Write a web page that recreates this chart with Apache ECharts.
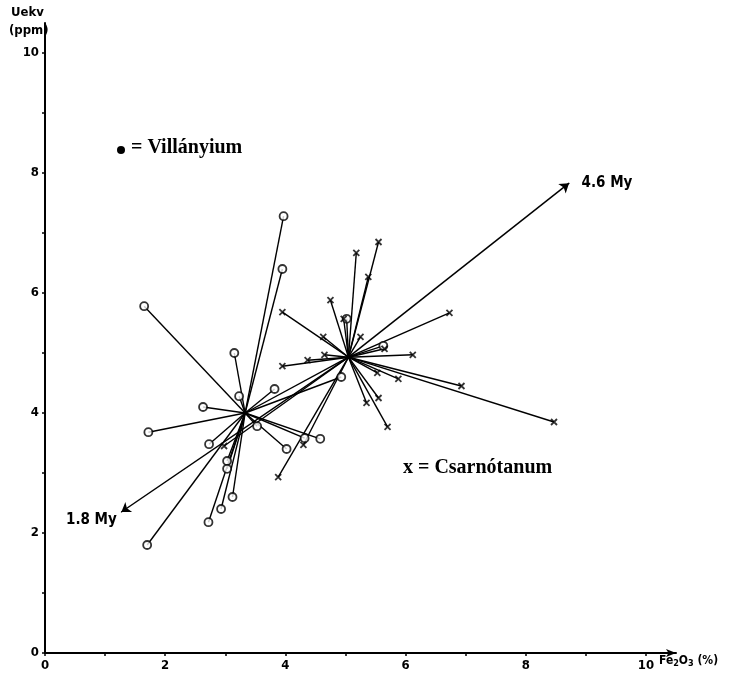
<!DOCTYPE html>
<html>
<head>
<meta charset="utf-8">
<script src="https://cdn.jsdelivr.net/npm/echarts@6/dist/echarts.min.js"></script>
<style>html,body{margin:0;padding:0;background:#fff;}#c{width:740px;height:677px;}</style>
</head>
<body>
<div id="c"></div>
<script>
// ---- data ----
var tickValues = [0,1,2,3,4,5,6,7,8,9,10];
var labelValues = [0,2,4,6,8,10];
var villanyiumCenter = [3.33, 4.0];
var csarnotanumCenter = [5.05, 4.93];
var villanyiumPoints = [
  [1.65,5.78],[3.97,7.28],[3.95,6.40],[3.15,5.0],[3.23,4.28],[3.82,4.4],
  [2.63,4.1],[1.72,3.68],[2.73,3.48],[3.53,3.78],[4.02,3.40],[4.58,3.57],
  [4.32,3.58],[4.93,4.6],[3.03,3.2],[3.03,3.07],[3.12,2.6],[2.93,2.4],
  [2.72,2.18],[1.7,1.8]
];
var villanyiumNearC = [[5.02,5.57],[5.63,5.12]];
var csarnotanumPoints = [
  [5.55,6.85],[5.18,6.67],[5.38,6.27],[4.75,5.88],[3.95,5.68],[4.97,5.57],
  [4.63,5.27],[5.25,5.27],[6.73,5.67],[5.65,5.07],[6.12,4.97],[4.65,4.97],
  [4.37,4.88],[3.95,4.78],[5.53,4.67],[5.88,4.57],[6.93,4.45],[8.47,3.85],
  [5.55,4.25],[5.35,4.17],[5.7,3.77],[4.3,3.47],[3.88,2.93],[2.98,3.45]
];
var ageStart = [1.27, 2.35];   // 1.8 My
var ageEnd = [8.72, 7.83];     // 4.6 My
var ageLabels = ['1.8 My', '4.6 My'];

// ---- build ----
var spokes = [];
villanyiumPoints.forEach(function(p){ spokes.push({coords:[villanyiumCenter, p]}); });
villanyiumNearC.forEach(function(p){ spokes.push({coords:[csarnotanumCenter, p]}); });
csarnotanumPoints.forEach(function(p){ spokes.push({coords:[csarnotanumCenter, p]}); });
spokes.push({coords:[villanyiumCenter, csarnotanumCenter]});

var techFont = "'DejaVu Sans Condensed','Liberation Sans Narrow',sans-serif";
var serifFont = "'Liberation Serif','DejaVu Serif',serif";
var ageLabelStyle = {show:true, color:'#000', fontFamily:techFont, fontWeight:'bold', fontSize:15,
  textBorderWidth:0, textBorderColor:'transparent', textShadowBlur:0, opacity:1};

var chart = echarts.init(document.getElementById('c'), null, {renderer:'canvas'});
chart.setOption({
  animation:false,
  backgroundColor:'#fff',
  grid:{left:45, right:64, top:23, bottom:24, containLabel:false},
  xAxis:{
    type:'value', min:0, max:10.5, interval:1,
    splitLine:{show:false},
    axisLine:{show:true, onZero:false, lineStyle:{color:'#000', width:2}, symbol:['none','arrow'], symbolSize:[6,10]},
    axisTick:{show:true, length:3, lineStyle:{color:'#000', width:1.5}, customValues:tickValues},
    axisLabel:{show:true, color:'#000', fontFamily:techFont, fontWeight:'bold', fontSize:13, margin:6, customValues:labelValues}
  },
  yAxis:{
    type:'value', min:0, max:10.5, interval:1,
    splitLine:{show:false},
    axisLine:{show:true, onZero:false, lineStyle:{color:'#000', width:2}},
    axisTick:{show:true, length:3, lineStyle:{color:'#000', width:1.5}, customValues:tickValues},
    axisLabel:{show:true, color:'#000', fontFamily:techFont, fontWeight:'bold', fontSize:13, margin:6, customValues:labelValues}
  },
  graphic:[
    {type:'text', left:11, top:6, style:{text:'Uekv', font:"bold 13px "+techFont, fill:'#000'}},
    {type:'text', left:9, top:24, style:{text:'(ppm)', font:"bold 13px "+techFont, fill:'#000'}},
    {type:'text', left:659, top:655, style:{
      text:'Fe{s|2}O{s|3} (%)', font:"bold 12px "+techFont, fill:'#000',
      rich:{s:{fontSize:9, fontWeight:'bold', fontFamily:techFont, verticalAlign:'bottom', padding:[6,0,0,0]}}
    }},
    {type:'circle', shape:{cx:121, cy:150, r:4}, style:{fill:'#000'}},
    {type:'text', left:131, top:138, style:{text:'= Villányium', font:"bold 20px "+serifFont, fill:'#000'}},
    {type:'text', left:403, top:458, style:{text:'x = Csarnótanum', font:"bold 20px "+serifFont, fill:'#000'}}
  ],
  series:[
    {
      type:'lines', coordinateSystem:'cartesian2d', silent:true, z:2,
      lineStyle:{color:'#000', width:1.4, opacity:1},
      data:spokes
    },
    {
      type:'lines', coordinateSystem:'cartesian2d', silent:true, z:2,
      symbol:['none','arrow'], symbolSize:9,
      lineStyle:{color:'#000', width:1.5, opacity:1},
      data:[{coords:[csarnotanumCenter, ageStart]},{coords:[csarnotanumCenter, ageEnd]}]
    },
    {
      type:'scatter', z:4, symbol:'circle', symbolSize:8,
      itemStyle:{color:'#fff', borderColor:'#000', borderWidth:1.8},
      data:villanyiumPoints.concat(villanyiumNearC)
    },
    {
      type:'scatter', z:4, symbol:'path://M0,0L10,10M10,0L0,10', symbolSize:6,
      itemStyle:{color:'none', borderColor:'#000', borderWidth:1.8},
      data:csarnotanumPoints
    },
    {
      type:'scatter', z:5, symbolSize:1, silent:true,
      itemStyle:{color:'#000', opacity:1},
      label:ageLabelStyle,
      data:[
        {value:ageStart, label:Object.assign({}, ageLabelStyle, {formatter:ageLabels[0], position:'left', distance:4, offset:[0,8]})},
        {value:ageEnd, label:Object.assign({}, ageLabelStyle, {formatter:ageLabels[1], position:'right', distance:12})}
      ]
    }
  ]
});
</script>
</body>
</html>
